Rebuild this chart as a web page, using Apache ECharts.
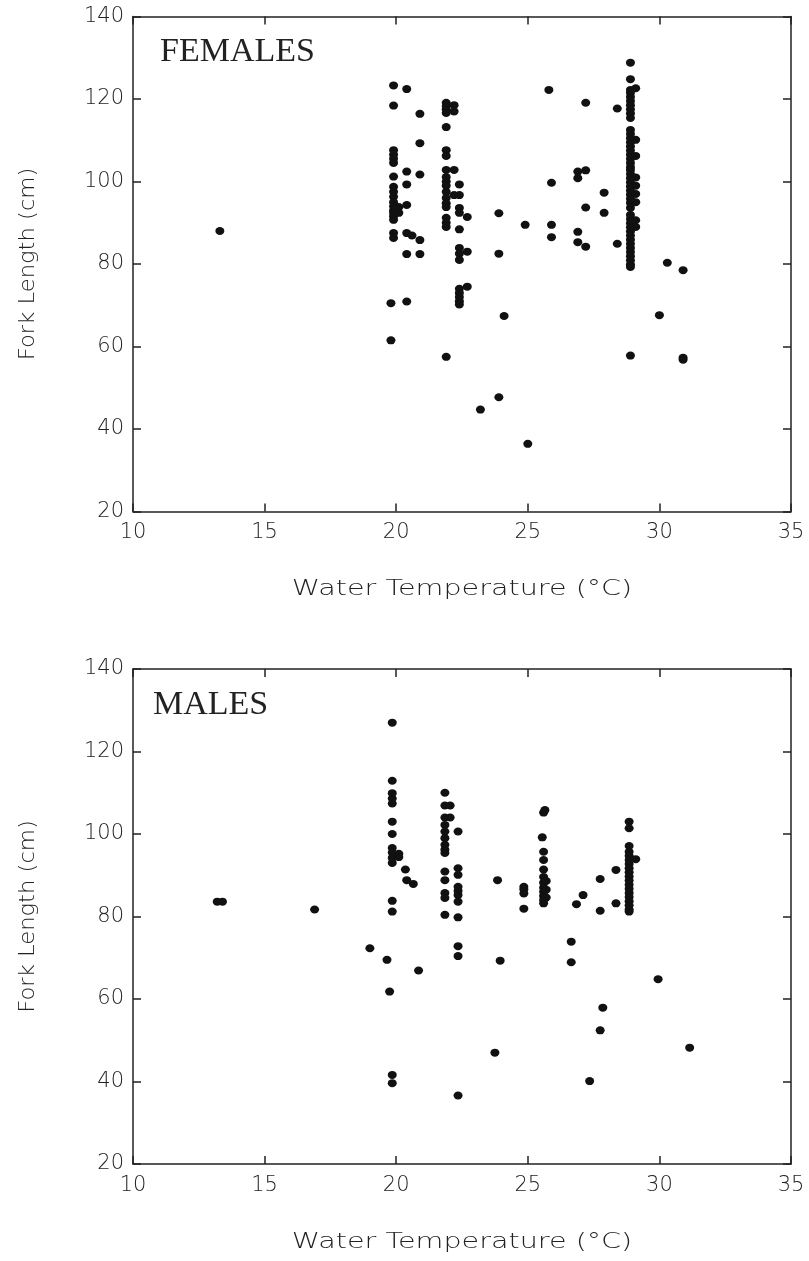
<!DOCTYPE html>
<html><head><meta charset="utf-8">
<script src="https://cdn.jsdelivr.net/npm/echarts@6/dist/echarts.min.js"></script>
<style>html,body{margin:0;padding:0;background:#fff}#c{width:809px;height:1261px}</style>
</head><body><div id="c"></div>
<script>
const xTicks = [10, 15, 20, 25, 30, 35];
const yTicks = [20, 40, 60, 80, 100, 120, 140];
const panelLabels = ['FEMALES', 'MALES'];
const xTitle = 'Water Temperature (°C)';
const yTitle = 'Fork Length (cm)';

// [water temperature (°C), fork length (cm)]
const femalePoints = [
  [13.3, 88],
  [19.9, 123.3], [19.9, 118.4], [19.9, 107.6], [19.9, 106.5], [19.9, 105.5], [19.9, 104.5], [19.9, 101.2],
  [19.9, 98.7], [19.9, 97.5], [19.9, 96.3], [19.9, 95.0], [19.9, 94.0], [19.9, 93.0], [19.9, 92.4],
  [19.9, 91.6], [19.9, 90.7], [19.9, 87.5], [19.9, 86.3],
  [20.1, 93.8], [20.1, 92.4],
  [19.8, 70.5], [19.8, 61.5],
  [20.4, 122.4], [20.4, 102.4], [20.4, 99.3], [20.4, 94.3], [20.4, 87.5], [20.4, 82.4], [20.4, 70.9],
  [20.6, 86.9],
  [20.9, 116.4], [20.9, 109.3], [20.9, 101.7], [20.9, 85.8], [20.9, 82.4],
  [21.9, 119.1], [21.9, 118.3], [21.9, 117.5], [21.9, 116.6], [21.9, 113.2], [21.9, 107.6], [21.9, 106.2],
  [21.9, 102.8], [21.9, 101.1], [21.9, 100.0], [21.9, 99.0], [21.9, 97.5], [21.9, 96.0], [21.9, 94.7],
  [21.9, 93.8], [21.9, 91.2], [21.9, 90.0], [21.9, 89.0], [21.9, 57.5],
  [22.2, 118.5], [22.2, 117.0], [22.2, 102.8], [22.2, 96.7],
  [22.4, 99.3], [22.4, 96.7], [22.4, 93.6], [22.4, 92.4], [22.4, 88.4], [22.4, 83.9], [22.4, 82.5],
  [22.4, 81.0], [22.4, 74.0], [22.4, 73.0], [22.4, 72.0], [22.4, 71.0], [22.4, 70.2],
  [22.7, 91.4], [22.7, 83.0], [22.7, 74.5],
  [23.2, 44.7],
  [23.9, 92.3], [23.9, 82.5], [23.9, 47.7],
  [24.1, 67.4],
  [24.9, 89.5],
  [25.0, 36.4],
  [25.8, 122.2],
  [25.9, 99.7], [25.9, 89.5], [25.9, 86.5],
  [26.9, 102.4], [26.9, 100.8], [26.9, 87.8], [26.9, 85.3],
  [27.2, 119.1], [27.2, 102.7], [27.2, 93.7], [27.2, 84.2],
  [27.9, 97.3], [27.9, 92.4],
  [28.4, 117.7], [28.4, 84.9],
  [28.9, 128.8], [28.9, 124.8], [28.9, 122.2], [28.9, 121.5], [28.9, 120.5], [28.9, 119.5], [28.9, 118.5],
  [28.9, 117.5], [28.9, 116.5], [28.9, 115.4], [28.9, 112.5], [28.9, 111.5], [28.9, 110.5], [28.9, 109.5],
  [28.9, 108.5], [28.9, 107.5], [28.9, 106.5], [28.9, 105.5], [28.9, 104.5], [28.9, 103.5], [28.9, 102.8],
  [28.9, 101.8], [28.9, 100.8], [28.9, 99.8], [28.9, 98.8], [28.9, 97.8], [28.9, 96.8], [28.9, 95.8],
  [28.9, 94.8], [28.9, 93.6], [28.9, 91.9], [28.9, 90.9], [28.9, 89.9], [28.9, 88.9], [28.9, 87.9],
  [28.9, 86.9], [28.9, 85.9], [28.9, 84.9], [28.9, 83.9], [28.9, 82.9], [28.9, 81.9], [28.9, 80.9],
  [28.9, 79.9], [28.9, 79.3], [28.9, 57.8],
  [29.1, 122.6], [29.1, 110.1], [29.1, 106.2], [29.1, 101.0], [29.1, 99.0], [29.1, 97.0], [29.1, 95.0],
  [29.1, 90.6], [29.1, 89.0],
  [30.0, 67.6],
  [30.3, 80.3],
  [30.9, 78.5], [30.9, 57.3], [30.9, 56.8]
];

const malePoints = [
  [13.2, 83.6], [13.4, 83.6],
  [16.9, 81.7],
  [19.0, 72.3],
  [19.65, 69.5],
  [19.75, 61.8],
  [19.85, 127.0], [19.85, 112.9], [19.85, 109.9], [19.85, 108.6], [19.85, 107.4], [19.85, 103.0], [19.85, 100.0],
  [19.85, 96.6], [19.85, 95.5], [19.85, 94.2], [19.85, 93.0], [19.85, 83.8], [19.85, 81.2], [19.85, 41.6], [19.85, 39.6],
  [20.1, 95.2], [20.1, 94.4],
  [20.35, 91.4], [20.4, 88.8],
  [20.65, 87.9],
  [20.85, 66.9],
  [21.85, 110.0], [21.85, 106.9], [21.85, 104.0], [21.85, 102.2], [21.85, 100.6], [21.85, 99.0], [21.85, 97.4],
  [21.85, 96.2], [21.85, 95.4], [21.85, 90.9], [21.85, 88.8], [21.85, 85.7], [21.85, 84.5], [21.85, 80.4],
  [22.05, 106.9], [22.05, 104.0],
  [22.35, 100.6], [22.35, 91.7], [22.35, 90.1], [22.35, 87.2], [22.35, 86.2], [22.35, 85.2], [22.35, 83.6],
  [22.35, 79.8], [22.35, 72.8], [22.35, 70.4], [22.35, 36.6],
  [23.75, 47.0],
  [23.85, 88.8],
  [23.95, 69.3],
  [24.85, 87.2], [24.85, 86.6], [24.85, 85.6], [24.85, 81.9],
  [25.6, 105.2], [25.65, 105.8], [25.55, 99.2], [25.6, 95.7], [25.6, 93.7], [25.6, 91.4], [25.6, 89.6],
  [25.6, 88.2], [25.6, 87.0], [25.6, 86.0], [25.6, 85.0], [25.6, 84.0], [25.6, 83.2],
  [25.7, 88.6], [25.7, 86.5], [25.7, 84.6],
  [26.65, 73.9], [26.65, 68.9],
  [26.85, 83.0],
  [27.1, 85.2],
  [27.35, 40.1],
  [27.75, 89.1], [27.75, 81.4], [27.75, 52.4],
  [27.85, 57.9],
  [28.35, 91.3], [28.35, 83.2],
  [28.85, 103.0], [28.85, 101.4], [28.85, 97.1], [28.85, 95.7], [28.85, 94.7], [28.85, 93.7], [28.85, 92.7],
  [28.85, 91.7], [28.85, 90.7], [28.85, 89.7], [28.85, 88.7], [28.85, 87.7], [28.85, 86.7], [28.85, 85.7],
  [28.85, 84.7], [28.85, 83.7], [28.85, 82.7], [28.85, 81.7], [28.85, 81.2],
  [29.1, 93.9],
  [29.95, 64.8],
  [31.15, 48.2]
];

const chart = echarts.init(document.getElementById('c'), null, {renderer: 'canvas'});
const plotLeft = 133, plotWidth = 658, plotHeight = 495;
const plotTops = [16.5, 669];
const lineCol = '#222';
const labelFont = {fontFamily: 'DejaVu Sans', fontSize: 21, color: '#222', fontWeight: 300};

const grids = [], xAxes = [], yAxes = [], series = [], graphics = [];
const panels = [femalePoints, malePoints];
panels.forEach((pts, i) => {
  grids.push({left: plotLeft, top: plotTops[i], width: plotWidth, height: plotHeight});
  const xBase = {
    type: 'value', gridIndex: i, min: xTicks[0], max: xTicks[xTicks.length - 1],
    interval: xTicks[1] - xTicks[0],
    axisLine: {show: true, onZero: false, lineStyle: {color: lineCol, width: 1.5}},
    axisTick: {show: true, inside: true, length: 8, lineStyle: {color: lineCol, width: 1.5}},
    splitLine: {show: false}
  };
  xAxes.push(Object.assign({}, xBase, {position: 'bottom',
    axisLabel: Object.assign({show: true, margin: 11}, labelFont)}));
  xAxes.push(Object.assign({}, xBase, {position: 'top', axisLabel: {show: false}}));
  const yBase = {
    type: 'value', gridIndex: i, min: yTicks[0], max: yTicks[yTicks.length - 1],
    interval: yTicks[1] - yTicks[0],
    axisLine: {show: true, onZero: false, lineStyle: {color: lineCol, width: 1.5}},
    axisTick: {show: true, inside: true, length: 8, lineStyle: {color: lineCol, width: 1.5}},
    splitLine: {show: false}
  };
  yAxes.push(Object.assign({}, yBase, {position: 'left',
    axisLabel: Object.assign({show: true, margin: 9}, labelFont)}));
  yAxes.push(Object.assign({}, yBase, {position: 'right', axisLabel: {show: false}}));
  series.push({
    type: 'scatter', xAxisIndex: i * 2, yAxisIndex: i * 2, data: pts,
    symbol: 'circle', symbolSize: [9, 8],
    itemStyle: {color: '#111', opacity: 1}, silent: true
  });
  graphics.push({
    type: 'text', x: i === 0 ? 160 : 153, y: plotTops[i] + 19,
    style: {text: panelLabels[i], font: '34px "Liberation Serif"', fill: '#222', textAlign: 'left', textVerticalAlign: 'top'}
  });
  graphics.push({
    type: 'text', x: plotLeft + plotWidth / 2, y: plotTops[i] + 573, scaleX: 1.3,
    style: {text: xTitle, font: '300 22px "DejaVu Sans"', fill: '#222', textAlign: 'center', textVerticalAlign: 'middle'}
  });
  graphics.push({
    type: 'text', x: 28, y: plotTops[i] + plotHeight / 2, rotation: Math.PI / 2, scaleX: 1.03,
    style: {text: yTitle, font: '300 22px "DejaVu Sans"', fill: '#222', textAlign: 'center', textVerticalAlign: 'middle'}
  });
});

chart.setOption({
  animation: false,
  backgroundColor: '#fff',
  grid: grids, xAxis: xAxes, yAxis: yAxes, series: series, graphic: graphics
});
</script>
</body></html>
